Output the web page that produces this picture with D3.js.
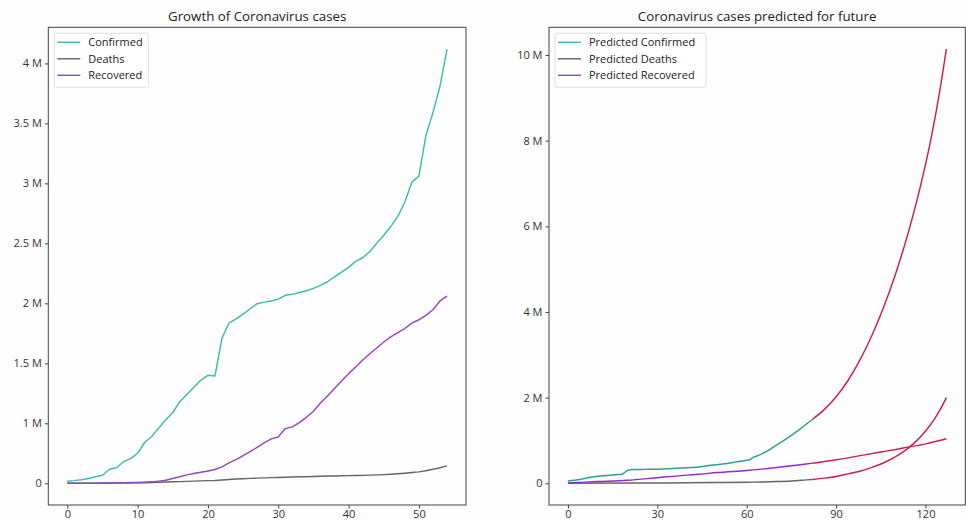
<!DOCTYPE html>
<html lang="en">
<head>
  <meta charset="UTF-8" />
  <title>Coronavirus cases</title>
  <style>
    body { margin: 0; background: #fdfdfd; font-family: "Open Sans", sans-serif; }
    svg { display: block; }
    .tick text { fill: #333; font-size: 11px; font-family: "Open Sans", sans-serif; }
    .tick line { stroke: #444; }
    .title { font-size: 13.3px; fill: #222; text-anchor: middle; }
    .legend text { font-size: 11px; fill: #222; }
  </style>
</head>
<body>
  <div id="chart"></div>

  <script src="https://d3js.org/d3.v7.min.js"></script>
  <script>
    const width = 966;
    const height = 521;

    // ---- left chart: observed cases (values in millions), one value per day
    const confirmed = [0.017, 0.022, 0.03, 0.04, 0.055, 0.067, 0.117, 0.13, 0.18, 0.205,
      0.25, 0.34, 0.39, 0.46, 0.53, 0.59, 0.68, 0.74, 0.80, 0.86,
      0.90, 0.895, 1.21, 1.336, 1.37, 1.41, 1.455, 1.497, 1.51, 1.52,
      1.535, 1.567, 1.575, 1.59, 1.605, 1.625, 1.65, 1.68, 1.72, 1.76,
      1.80, 1.85, 1.88, 1.93, 2.0, 2.067, 2.14, 2.225, 2.345, 2.51,
      2.56, 2.9, 3.09, 3.31, 3.62];
    const deaths = [0, 0, 0, 0.001, 0.001, 0.001, 0.002, 0.002, 0.003, 0.003,
      0.004, 0.005, 0.006, 0.008, 0.01, 0.012, 0.014, 0.016, 0.018, 0.02,
      0.022, 0.024, 0.028, 0.032, 0.035, 0.038, 0.041, 0.043, 0.045, 0.047,
      0.049, 0.051, 0.053, 0.054, 0.055, 0.057, 0.058, 0.06, 0.061, 0.062,
      0.064, 0.065, 0.066, 0.068, 0.07, 0.072, 0.075, 0.079, 0.084, 0.09,
      0.095, 0.105, 0.117, 0.13, 0.145];
    const recovered = [0, 0, 0, 0, 0.001, 0.002, 0.003, 0.004, 0.005, 0.006,
      0.007, 0.009, 0.012, 0.018, 0.025, 0.04, 0.055, 0.07, 0.082, 0.092,
      0.103, 0.115, 0.137, 0.17, 0.197, 0.23, 0.264, 0.30, 0.336, 0.37,
      0.386, 0.456, 0.47, 0.506, 0.55, 0.6, 0.67, 0.727, 0.79, 0.852,
      0.914, 0.97, 1.025, 1.08, 1.128, 1.178, 1.22, 1.255, 1.29, 1.335,
      1.363, 1.4, 1.447, 1.52, 1.56];
    const leftYTicks = [0, 0.5, 1, 1.5, 2, 2.5, 3, 3.5];
    const leftYLabels = ['0', '1 M', '1.5 M', '2 M', '2.5 M', '3 M', '3.5 M', '4 M'];
    const leftXTicks = [0, 10, 20, 30, 40, 50];

    // ---- right chart: [day, millions]; history part then forecast part
    const predConfirmedHist = [[0, 0.054], [4, 0.09], [8, 0.145], [12, 0.175], [16, 0.2], [18, 0.21],
      [19, 0.25], [20, 0.3], [22, 0.32], [26, 0.325], [30, 0.33], [35, 0.345], [40, 0.365],
      [44, 0.38], [48, 0.42], [52, 0.45], [56, 0.49], [60, 0.54], [61, 0.55], [62, 0.6],
      [64, 0.65], [66, 0.72], [68, 0.8], [70, 0.89], [72, 0.98], [75, 1.12], [78, 1.27],
      [80, 1.38], [82, 1.49]];
    const predConfirmedFut = [[82, 1.49], [86, 1.72], [90, 2.02], [94, 2.4], [98, 2.88], [102, 3.45],
      [106, 4.12], [110, 4.9], [114, 5.8], [118, 6.85], [122, 8.1], [125, 9.25], [127, 10.14]];
    const predDeathsHist = [[0, 0], [20, 0.005], [40, 0.012], [50, 0.018], [60, 0.025], [65, 0.03],
      [70, 0.04], [75, 0.055], [80, 0.08], [82, 0.09]];
    const predDeathsFut = [[82, 0.09], [86, 0.12], [90, 0.16], [94, 0.22], [98, 0.28], [102, 0.37],
      [106, 0.48], [110, 0.62], [114, 0.81], [117, 0.99], [120, 1.22], [123, 1.5], [125, 1.73], [127, 2.0]];
    const predRecoveredHist = [[0, 0.01], [10, 0.04], [20, 0.07], [30, 0.13], [40, 0.19], [44, 0.21],
      [50, 0.25], [60, 0.30], [65, 0.33], [70, 0.37], [75, 0.41], [80, 0.45], [82, 0.47]];
    const predRecoveredFut = [[82, 0.47], [90, 0.55], [94.5, 0.6], [100, 0.67], [105, 0.73], [110, 0.79],
      [114.6, 0.85], [120, 0.92], [127, 1.04]];
    const rightYTicks = [0, 2, 4, 6, 8, 10];
    const rightYLabels = ['0', '2 M', '4 M', '6 M', '8 M', '10 M'];
    const rightXTicks = [0, 30, 60, 90, 120];

    const teal = '#3dbcae';
    const tealDark = '#2f9f8f';
    const gray = '#666666';
    const purple = '#9348bd';
    const violet = '#9327d0';
    const crimson = '#c8214a';

    const svg = d3.select('#chart').append('svg')
      .attr('width', width)
      .attr('height', height);

    // matplotlib style 5% padding
    function padded(lo, hi) {
      const p = (hi - lo) * 0.05;
      return [lo - p, hi + p];
    }

    function drawPanel(opts) {
      const { left, right, top, bottom } = opts.box;
      const x = d3.scaleLinear().domain(padded(opts.xExtent[0], opts.xExtent[1])).range([left, right]);
      const y = d3.scaleLinear().domain(padded(opts.yExtent[0], opts.yExtent[1])).range([bottom, top]);

      const g = svg.append('g');

      // lines
      const line = d3.line()
        .x(d => x(d[0]))
        .y(d => y(d[1]))
        .curve(opts.curve || d3.curveLinear);
      opts.lines.forEach(l => {
        g.append('path')
          .datum(l.data)
          .attr('fill', 'none')
          .attr('stroke', l.color)
          .attr('stroke-width', 1.45)
          .attr('stroke-linejoin', 'round')
          .attr('d', line);
      });

      // frame
      g.append('rect')
        .attr('x', left).attr('y', top)
        .attr('width', right - left).attr('height', bottom - top)
        .attr('fill', 'none')
        .attr('stroke', '#444')
        .attr('stroke-width', 1);

      // axes
      g.append('g')
        .attr('transform', `translate(${left},0)`)
        .call(d3.axisLeft(y).tickValues(opts.yTicks)
          .tickFormat((d, i) => opts.yLabels[i]).tickSize(3.5).tickPadding(3))
        .call(a => a.select('.domain').remove());

      g.append('g')
        .attr('transform', `translate(0,${bottom})`)
        .call(d3.axisBottom(x).tickValues(opts.xTicks)
          .tickFormat(d3.format('d')).tickSize(3.5).tickPadding(2))
        .call(a => a.select('.domain').remove());

      // title
      g.append('text')
        .attr('class', 'title')
        .attr('x', (left + right) / 2)
        .attr('y', 20.5)
        .text(opts.title);

      // legend
      const lg = g.append('g').attr('class', 'legend');
      lg.append('rect')
        .attr('x', left + 6).attr('y', top + 6)
        .attr('width', opts.legendWidth).attr('height', 54)
        .attr('rx', 2)
        .attr('fill', '#fff')
        .attr('fill-opacity', 0.8)
        .attr('stroke', '#e0e0e0');
      opts.legend.forEach((item, i) => {
        const cy = top + 15 + i * 16.5;
        lg.append('line')
          .attr('x1', left + 9).attr('x2', left + 32)
          .attr('y1', cy).attr('y2', cy)
          .attr('stroke', item.color)
          .attr('stroke-width', 1.45);
        lg.append('text')
          .attr('x', left + 40)
          .attr('y', cy)
          .attr('dy', '0.35em')
          .text(item.label);
      });
    }

    const days = d3.range(confirmed.length);
    const pairs = arr => days.map(i => [i, arr[i]]);

    drawPanel({
      box: { left: 48.3, right: 466, top: 27.3, bottom: 505 },
      xExtent: [0, confirmed.length - 1],
      yExtent: [0, d3.max(confirmed)],
      xTicks: leftXTicks,
      yTicks: leftYTicks,
      yLabels: leftYLabels,
      title: 'Growth of Coronavirus cases',
      legendWidth: 94,
      lines: [
        { data: pairs(confirmed), color: teal },
        { data: pairs(deaths), color: gray },
        { data: pairs(recovered), color: purple }
      ],
      legend: [
        { label: 'Confirmed', color: teal },
        { label: 'Deaths', color: gray },
        { label: 'Recovered', color: purple }
      ]
    });

    drawPanel({
      box: { left: 549, right: 965.3, top: 27.3, bottom: 505 },
      xExtent: [0, 127],
      yExtent: [0, d3.max(predConfirmedFut, d => d[1])],
      xTicks: rightXTicks,
      yTicks: rightYTicks,
      yLabels: rightYLabels,
      title: 'Coronavirus cases predicted for future',
      legendWidth: 151,
      curve: d3.curveMonotoneX,
      lines: [
        { data: predDeathsHist, color: gray },
        { data: predRecoveredHist, color: violet },
        { data: predConfirmedHist, color: tealDark },
        { data: predDeathsFut, color: crimson },
        { data: predRecoveredFut, color: crimson },
        { data: predConfirmedFut, color: crimson }
      ],
      legend: [
        { label: 'Predicted Confirmed', color: teal },
        { label: 'Predicted Deaths', color: gray },
        { label: 'Predicted Recovered', color: purple }
      ]
    });
  </script>
</body>
</html>
